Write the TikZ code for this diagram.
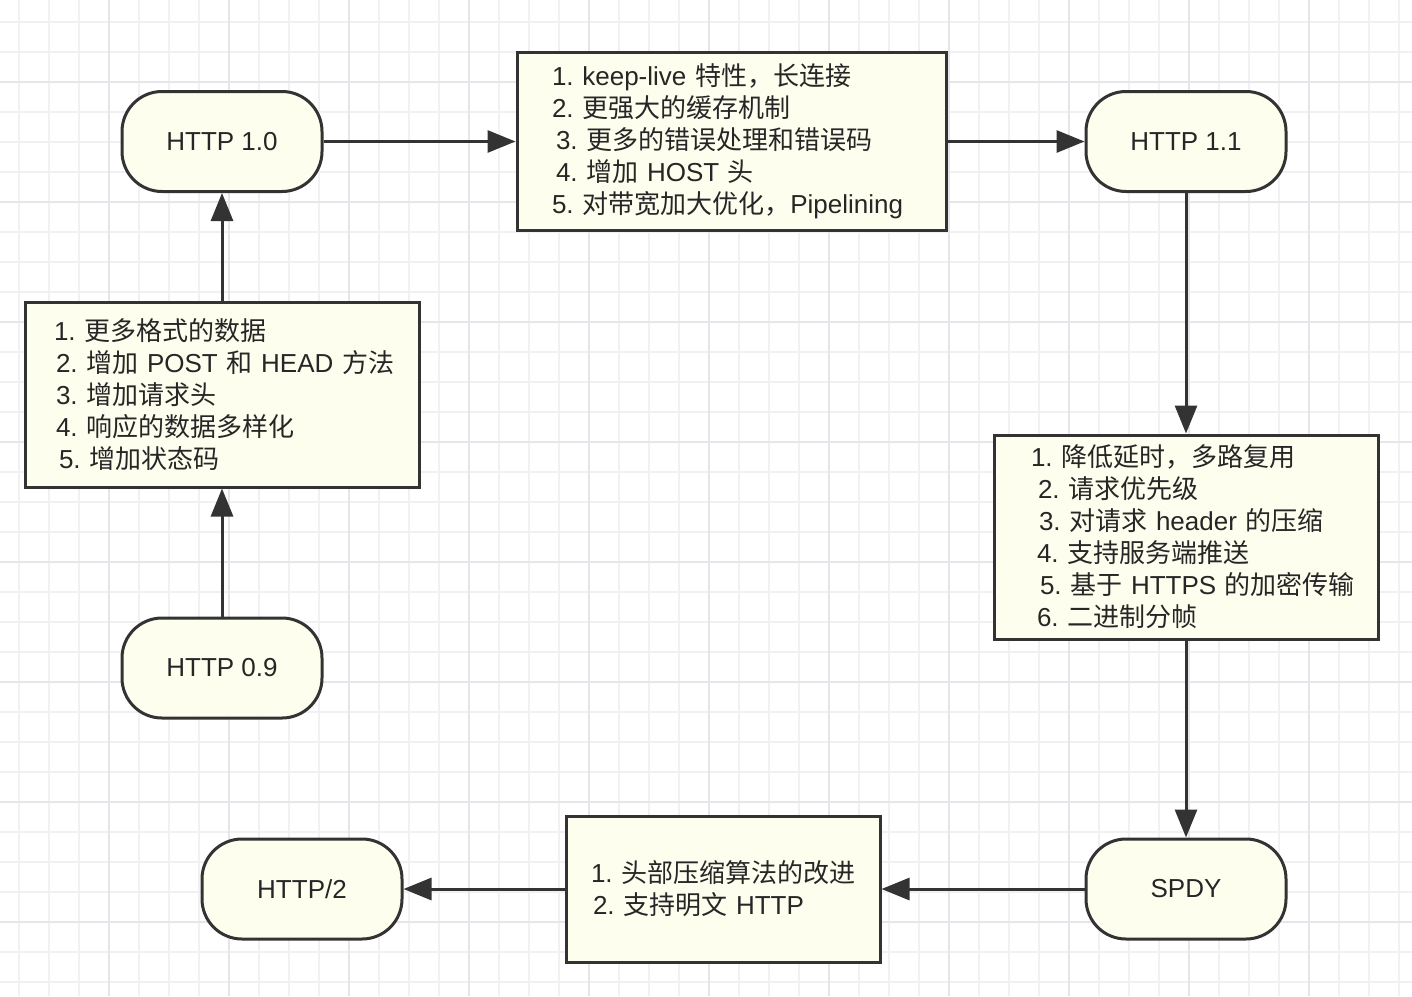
\documentclass[tikz,border=0pt]{standalone}
\usepackage{fontspec}
\setmainfont{Liberation Sans}
\newfontfamily\cjk{Noto Sans CJK SC}
\usetikzlibrary{arrows.meta}
\newcommand\zh[1]{{\cjk #1}}
\definecolor{gridminor}{HTML}{F1F1F4}
\definecolor{gridmajor}{HTML}{E5E5EA}
\definecolor{nodefill}{HTML}{FEFEEF}
\definecolor{edgecol}{HTML}{333333}
\definecolor{inkcol}{HTML}{262626}
\begin{document}
\begin{tikzpicture}[x=1pt,y=-1pt,
  pill/.style={draw=edgecol, line width=3pt, fill=nodefill, rounded corners=40pt,
    minimum width=200pt, minimum height=100pt, text=inkcol,
    font=\fontsize{26}{32}\selectfont, inner sep=0pt},
  notebox/.style={draw=edgecol, line width=3pt, fill=nodefill, text=inkcol,
    font=\fontsize{26}{32}\selectfont\frenchspacing, align=left, inner ysep=0pt},
  flow/.style={draw=edgecol, line width=3pt, -{Triangle[length=28pt,width=22pt]}}]

\useasboundingbox (0,0) rectangle (1412,996);
\fill[white] (0,0) rectangle (1412,996);

% background grid
\begin{scope}[line width=2pt]
  \foreach \x in {19,49,...,1399} \draw[gridminor] (\x,0) -- (\x,996);
  \foreach \y in {22,52,...,982} \draw[gridminor] (0,\y) -- (1412,\y);
  \foreach \x in {109,229,...,1309} \draw[gridmajor] (\x,0) -- (\x,996);
  \foreach \y in {82,202,...,922} \draw[gridmajor] (0,\y) -- (1412,\y);
\end{scope}

% protocol versions
\node[pill] (v09)  at (222,668)   {HTTP 0.9};
\node[pill] (v10)  at (222,141.5) {HTTP 1.0};
\node[pill] (v11)  at (1186,141.5) {HTTP 1.1};
\node[pill] (spdy) at (1186,889)  {SPDY};
\node[pill] (v2)   at (302,889)   {HTTP/2};

% feature lists (one unbreakable line per item)
\node[notebox, minimum width=394pt, minimum height=185pt, text width=336pt, inner xsep=29pt]
  (featB) at (222,394.5) {%
  \mbox{1. \zh{更多格式的数据}}\\
  \mbox{\hspace*{2pt}2. \zh{增加} POST \zh{和} HEAD \zh{方法}}\\
  \mbox{\hspace*{2pt}3. \zh{增加请求头}}\\
  \mbox{\hspace*{2pt}4. \zh{响应的数据多样化}}\\
  \mbox{\hspace*{5pt}5. \zh{增加状态码}}};

\node[notebox, minimum width=429pt, minimum height=178pt, text width=359pt, inner xsep=35pt]
  (featA) at (731.5,141.5) {%
  \mbox{1. keep-live \zh{特性，长连接}}\\
  \mbox{2. \zh{更强大的缓存机制}}\\
  \mbox{\hspace*{4pt}3. \zh{更多的错误处理和错误码}}\\
  \mbox{\hspace*{4pt}4. \zh{增加} HOST \zh{头}}\\
  \mbox{5. \zh{对带宽加大优化，}Pipelining}};

\node[notebox, minimum width=384pt, minimum height=204pt, text width=310pt, inner xsep=37pt]
  (featC) at (1186,537) {%
  \mbox{1. \zh{降低延时，多路复用}}\\
  \mbox{\hspace*{7pt}2. \zh{请求优先级}}\\
  \mbox{\hspace*{8pt}3. \zh{对请求} header \zh{的压缩}}\\
  \mbox{\hspace*{6pt}4. \zh{支持服务端推送}}\\
  \mbox{\hspace*{9pt}5. \zh{基于} HTTPS \zh{的加密传输}}\\
  \mbox{\hspace*{6pt}6. \zh{二进制分帧}}};

\node[notebox, minimum width=314pt, minimum height=146pt, text width=264pt, inner xsep=25pt]
  (featD) at (723,889) {%
  \mbox{1. \zh{头部压缩算法的改进}}\\
  \mbox{\hspace*{2pt}2. \zh{支持明文} HTTP}};

% evolution path
\draw[flow] (v09) -- (featB);
\draw[flow] (featB) -- (v10);
\draw[flow] (v10) -- (featA);
\draw[flow] (featA) -- (v11);
\draw[flow] (v11) -- (featC);
\draw[flow] (featC) -- (spdy);
\draw[flow] (spdy) -- (featD);
\draw[flow] (featD) -- (v2);
\end{tikzpicture}
\end{document}
